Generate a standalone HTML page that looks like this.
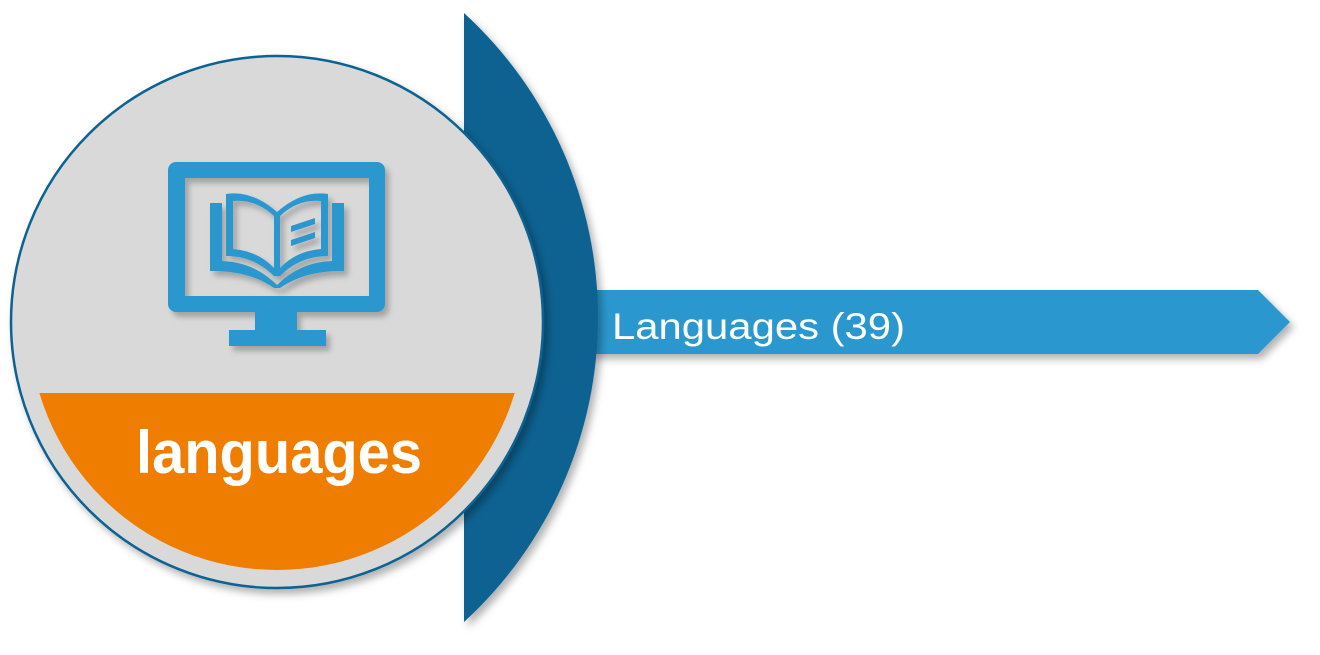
<!DOCTYPE html>
<html><head><meta charset="utf-8"><style>
html,body{margin:0;padding:0;background:#fff;width:1320px;height:655px;overflow:hidden}
</style></head><body>
<svg width="1320" height="655" viewBox="0 0 1320 655" xmlns="http://www.w3.org/2000/svg">
<defs>
<filter id="sh" x="-10%" y="-10%" width="130%" height="130%"><feDropShadow dx="4" dy="5" stdDeviation="4" flood-color="#000" flood-opacity="0.3"/></filter>
<filter id="sh2" x="-10%" y="-10%" width="130%" height="130%"><feDropShadow dx="4" dy="5" stdDeviation="3" flood-color="#000" flood-opacity="0.25"/></filter>
<clipPath id="inner"><circle cx="277" cy="322" r="248"/></clipPath>
</defs>
<polygon points="590,290 1258,290 1290,322 1258,354 590,354" fill="#2b98cf" filter="url(#sh)"/>
<text x="612" y="339" font-family="Liberation Sans, sans-serif" font-size="37" fill="#fff" textLength="293" lengthAdjust="spacingAndGlyphs">Languages (39)</text>
<path d="M464,13 A413,413 0 0 1 464,622 Z" fill="#0a6291" filter="url(#sh)"/>
<circle cx="277" cy="322" r="266" fill="#d9d9d9" stroke="#0a6291" stroke-width="2.5" filter="url(#sh)"/>
<rect x="0" y="393" width="560" height="200" fill="#ef7d00" clip-path="url(#inner)"/>
<text x="136" y="473" font-family="Liberation Sans, sans-serif" font-weight="bold" font-size="60" fill="#fff" textLength="286" lengthAdjust="spacingAndGlyphs">languages</text>
<g fill="#2b98cf" filter="url(#sh2)">
<path fill-rule="evenodd" d="M176,162 H377 a8,8 0 0 1 8,8 V304 a8,8 0 0 1 -8,8 H176 a8,8 0 0 1 -8,-8 V170 a8,8 0 0 1 8,-8 Z M185,178 V296 H369 V178 Z"/>
<rect x="255" y="310" width="42" height="22"/>
<rect x="229" y="330" width="97" height="16"/>
<path d="M226,194 Q252,190 277,212 Q302,190 328,194 V256 Q300,256 280,276 L277,276 L274,276 Q254,256 226,256 Z M233,201 V249 Q258,251 274,268 V216 Q256,199 233,201 Z M321,201 Q298,199 280,216 V268 Q296,251 321,249 Z"/>
<path d="M210,203 H222 V261 Q254,262 277,285 Q300,262 332,261 V203 H344 V271 Q306,270 280,288 H274 Q248,270 210,271 Z"/>
<path d="M291,226 L315,218 V224 L291,232 Z M291,240 L315,232 V238 L291,246 Z"/>
</g>
</svg>
</body></html>
